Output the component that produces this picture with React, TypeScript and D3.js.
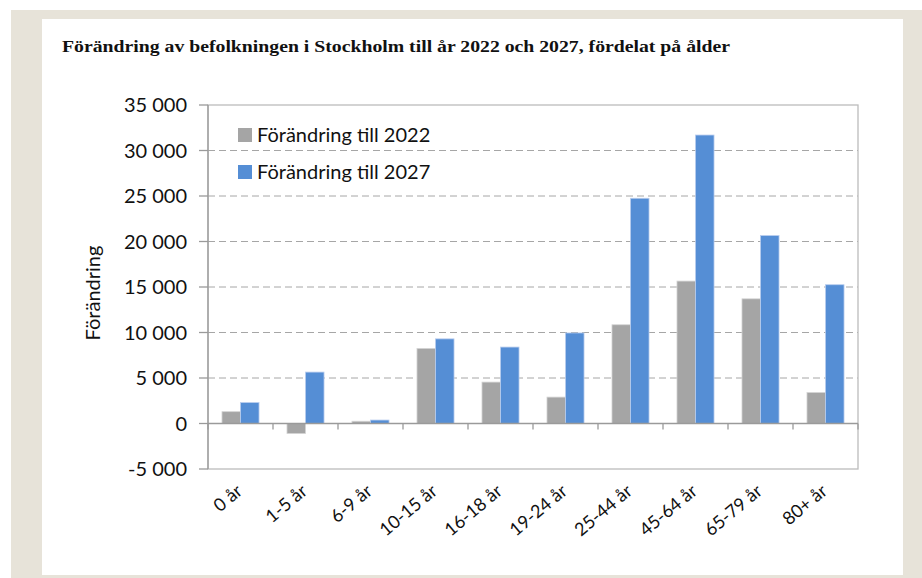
import React from "react";
import * as d3 from "d3";

const categories = ["0 år", "1-5 år", "6-9 år", "10-15 år", "16-18 år", "19-24 år", "25-44 år", "45-64 år", "65-79 år", "80+ år"];
const change2022 = [1300, -1100, 250, 8250, 4550, 2900, 10850, 15650, 13700, 3400];
const change2027 = [2300, 5650, 380, 9300, 8400, 9950, 24750, 31700, 20650, 15250];
const seriesNames = ["Förändring till 2022", "Förändring till 2027"];
const seriesColors = ["#a5a5a5", "#558ed5"];
const yTicks = [-5000, 0, 5000, 10000, 15000, 20000, 25000, 30000, 35000];
const title = "Förändring av befolkningen i Stockholm till år 2022 och 2027, fördelat på ålder";
const yTitle = "Förändring";

const W = 922;
const H = 578;
const plot = { left: 208, right: 858, top: 105, bottom: 469 };
const font = "Lato, 'Open Sans', sans-serif";

export default function App() {
  const x0 = d3
    .scaleBand<string>()
    .domain(categories)
    .range([plot.left, plot.right])
    .paddingInner(0.43)
    .paddingOuter(0.215);
  const x1 = d3.scaleBand<number>().domain([0, 1]).range([0, x0.bandwidth()]);
  const y = d3.scaleLinear().domain([-5000, 35000]).range([plot.bottom, plot.top]);
  const step = x0.step();
  const fmt = (v: number) => d3.format(",")(v).replace(/,/g, " ").replace("\u2212", "-");
  const series = [change2022, change2027];
  const y0 = y(0);

  return (
    <svg width={W} height={H} style={{ position: "absolute", left: 0, top: 0 }}>
      <rect x={0} y={0} width={W} height={H} fill="#ffffff" />
      <rect x={11} y={10} width={W - 11} height={H - 10} fill="#e7e3d9" />
      <rect x={42} y={19} width={861} height={556} fill="#ffffff" />
      <text
        x={62}
        y={52}
        fontFamily="'Liberation Serif', 'Times New Roman', serif"
        fontWeight="bold"
        fontSize={17}
        fill="#111"
        textLength={668}
        lengthAdjust="spacingAndGlyphs"
      >
        {title}
      </text>

      {/* gridlines */}
      {yTicks
        .filter((t) => t !== 0 && t !== -5000 && t !== 35000)
        .map((t) => (
          <line
            key={"g" + t}
            x1={plot.left}
            x2={plot.right}
            y1={y(t)}
            y2={y(t)}
            stroke="#a6a6a6"
            strokeWidth={1}
            strokeDasharray="7,4"
          />
        ))}

      {/* frame */}
      <rect
        x={plot.left}
        y={plot.top}
        width={plot.right - plot.left}
        height={plot.bottom - plot.top}
        fill="none"
        stroke="#bcbcbc"
        strokeWidth={1.3}
      />

      {/* bars */}
      {categories.map((c, i) =>
        series.map((s, k) => {
          const v = s[i];
          const yy = y(Math.max(0, v));
          const h = Math.abs(y(v) - y0);
          return (
            <rect
              key={c + k}
              x={(x0(c) as number) + (x1(k) as number)}
              y={yy}
              width={x1.bandwidth()}
              height={h}
              fill={seriesColors[k]}
              stroke={k === 0 ? "#d4d4d4" : "#b9cdee"}
              strokeWidth={0.8}
            />
          );
        })
      )}

      {/* zero line */}
      <line x1={plot.left} x2={plot.right} y1={y0} y2={y0} stroke="#9a9a9a" strokeWidth={1.3} />
      {/* category ticks */}
      {d3.range(categories.length + 1).map((i) => (
        <line
          key={"ct" + i}
          x1={plot.left + i * step}
          x2={plot.left + i * step}
          y1={y0}
          y2={y0 + 6}
          stroke="#9a9a9a"
          strokeWidth={1.3}
        />
      ))}

      {/* y axis */}
      <line x1={plot.left} x2={plot.left} y1={plot.top} y2={plot.bottom} stroke="#9a9a9a" strokeWidth={1.3} />
      {yTicks.map((t) => (
        <g key={"yt" + t}>
          <line x1={plot.left - 9} x2={plot.left} y1={y(t)} y2={y(t)} stroke="#9a9a9a" strokeWidth={1.3} />
          <text
            x={187}
            y={y(t)}
            dy="0.36em"
            textAnchor="end"
            fontFamily={font}
            fontSize={20}
            fill="#111"
          >
            {fmt(t)}
          </text>
        </g>
      ))}

      <text
        transform={`translate(100, 293) rotate(-90)`}
        textAnchor="middle"
        fontFamily={font}
        fontSize={20}
        fill="#111"
      >
        {yTitle}
      </text>

      {/* x labels */}
      {categories.map((c) => {
        const cx = (x0(c) as number) + x0.bandwidth() / 2;
        return (
          <text
            key={"xl" + c}
            transform={`translate(${cx + 3}, ${y(-5000) + 24}) rotate(-40)`}
            textAnchor="end"
            fontFamily={font}
            fontSize={18}
            fill="#111"
          >
            {c}
          </text>
        );
      })}

      {/* legend */}
      {seriesNames.map((n, k) => (
        <g key={"lg" + k} transform={`translate(238, ${128 + k * 37})`}>
          <rect x={0} y={0} width={14} height={14} fill={seriesColors[k]} />
          <text x={19} y={14} fontFamily={font} fontSize={20} fill="#111">
            {n}
          </text>
        </g>
      ))}
    </svg>
  );
}
